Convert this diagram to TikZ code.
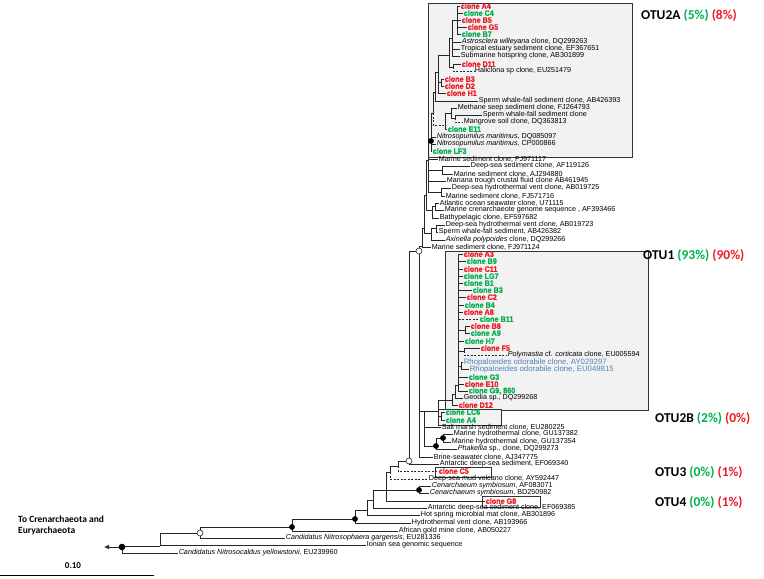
\documentclass[tikz,border=0pt]{standalone}
\usepackage{fontspec}
\setmainfont{Liberation Sans}
\newfontfamily\clonefont[FakeStretch=0.9,FakeBold=1]{Liberation Sans Bold}
\newfontfamily\otufont{Carlito}
\usetikzlibrary{arrows.meta}

\definecolor{cred}{RGB}{237,28,36}
\definecolor{cgreen}{RGB}{0,176,80}
\definecolor{cblue}{RGB}{79,129,189}
\definecolor{boxfill}{RGB}{242,242,242}

\tikzset{
  br/.style={line width=0.6pt, draw=black!85},
  brd/.style={br, dash pattern=on 2pt off 1.5pt},
  leaf/.style={anchor=west, inner sep=0.6pt, font=\fontsize{7.2}{7.2}\selectfont},
  cr/.style={leaf, text=cred, font=\clonefont\fontsize{8}{8}\selectfont},
  cg/.style={cr, text=cgreen},
  cb/.style={leaf, text=cblue, font=\fontsize{7.8}{7.8}\selectfont},
  otu/.style={anchor=west, inner sep=0pt, font=\otufont\bfseries\fontsize{13.5}{13.5}\selectfont},
  otubox/.style={fill=boxfill, draw=black!80, line width=0.6pt}
}

\begin{document}
\begin{tikzpicture}[x=1pt,y=-1pt]
  \useasboundingbox (0,0) rectangle (764,579);
  % OTU boxes
  \draw[otubox] (428,3) rectangle (632,157);
  \draw[otubox] (445,251) rectangle (648,410);
  \draw[otubox] (438,409) rectangle (501,425);
  \draw[draw=black!80, line width=0.6pt, fill=white] (435,467) rectangle (491,477);
  \draw[draw=black!80, line width=0.6pt, fill=white] (482,496) rectangle (540,507);

  % Internal nodes
  \coordinate (outg) at (104,547);
  \coordinate (R) at (122,547);
  \coordinate (N160) at (160,546);
  \coordinate (W0) at (200,533);
  \coordinate (B292) at (292,527);
  \coordinate (B355) at (355,519);
  \coordinate (N367) at (367,510);
  \coordinate (N373) at (373,500);
  \coordinate (N386) at (386,490);
  \coordinate (C419) at (419,490);
  \coordinate (N390) at (390,472);
  \coordinate (N398) at (398,466);
  \coordinate (W2) at (409,461);
  \coordinate (W1) at (419,251);
  \coordinate (N424) at (424,411);
  \coordinate (N438) at (438,411);
  \coordinate (B2n) at (441,416);
  \coordinate (DotA) at (436,446);
  \coordinate (DotB) at (443,438);
  \coordinate (O1) at (452,400);
  \coordinate (O2) at (455,394);
  \coordinate (O3) at (458,385);
  \coordinate (BA) at (465,330);
  \coordinate (FP) at (464,351);
  \coordinate (Rh) at (461,366);
  \coordinate (UC) at (422,246);
  \coordinate (UA) at (424,228);
  \coordinate (UB) at (426,195);
  \coordinate (UCc) at (428,160);
  \coordinate (G1) at (442,170);
  \coordinate (G2) at (441,192);
  \coordinate (G3) at (432,210);
  \coordinate (N435) at (435,206);
  \coordinate (G4) at (431,233);
  \coordinate (N437) at (436,228);
  \coordinate (Dot430) at (431,141);
  \coordinate (T0) at (433,113);
  \coordinate (T1) at (435,92);
  \coordinate (T2) at (438,72);
  \coordinate (BD) at (441,82);
  \coordinate (T3) at (449,55);
  \coordinate (T4) at (452,38);
  \coordinate (A4grp) at (457,20);
  \coordinate (D11n) at (453,67);
  \coordinate (ME) at (445,125);
  \coordinate (MG) at (451,113);
  \coordinate (MS) at (455,118);

  % OTU2A leaves
  \node[cr] (a4) at (460,6) {clone A4};
  \node[cg] (c4) at (463,13) {clone C4};
  \node[cr] (b5) at (461,20) {clone B5};
  \node[cr] (g5) at (467,27) {clone G5};
  \node[cg] (b7) at (461,34) {clone B7};
  \node[leaf] (astro) at (461,42) {\textit{Astrosclera willeyana} clone, DQ299263};
  \node[leaf] (trop) at (460,49) {Tropical estuary sediment clone, EF367651};
  \node[leaf] (subm) at (460,56) {Submarine hotspring clone, AB301899};
  \node[cr] (d11) at (461,64) {clone D11};
  \node[leaf] (hali) at (474,71) {Haliclona sp clone, EU251479};
  \node[cr] (b3) at (444,79) {clone B3};
  \node[cr] (d2) at (444,86) {clone D2};
  \node[cr] (h1) at (446,93) {clone H1};
  \node[leaf] (swA) at (478,101) {Sperm whale-fall sediment clone, AB426393};
  \node[leaf] (meth) at (457,108) {Methane seep sediment clone, FJ264793};
  \node[leaf] (swB) at (482,115) {Sperm whale-fall sediment clone};
  \node[leaf] (mang) at (463,122) {Mangrove soil clone, DQ363813};
  \node[cg] (e11) at (447,129) {clone E11};
  \node[leaf] (nmA) at (436,137) {\textit{Nitrosopumilus maritimus}, DQ085097};
  \node[leaf] (nmB) at (436,144) {\textit{Nitrosopumilus maritimus}, CP000866};
  \node[cg] (lf3) at (432,151) {clone LF3};

  % Marine clones
  \node[leaf] (ms1) at (438,159) {Marine sediment clone, FJ971117};
  \node[leaf] (dss) at (470,166) {Deep-sea sediment clone, AF119126};
  \node[leaf] (ms2) at (453,174) {Marine sediment clone, AJ294880};
  \node[leaf] (mari) at (446,181) {Mariana trough crustal fluid clone AB461945};
  \node[leaf] (dsv1) at (451,188) {Deep-sea hydrothermal vent clone, AB019725};
  \node[leaf] (ms3) at (445,196) {Marine sediment clone, FJ571716};
  \node[leaf] (atl) at (439,203) {Atlantic ocean seawater clone, U71115};
  \node[leaf] (mcg) at (444,210) {Marine crenarchaeote genome sequence , AF393466};
  \node[leaf] (bathy) at (439,218) {Bathypelagic clone, EF597682};
  \node[leaf] (dsv2) at (445,225) {Deep-sea hydrothermal vent clone, AB019723};
  \node[leaf] (swC) at (438,232) {Sperm whale-fall sediment, AB426382};
  \node[leaf] (axin) at (445,240) {\textit{Axinella polypoides} clone, DQ299266};
  \node[leaf] (ms4) at (431,247) {Marine sediment clone, FJ971124};

  % OTU1 leaves
  \node[cr] (a3) at (463,254) {clone A3};
  \node[cg] (b9) at (466,261) {clone B9};
  \node[cr] (c11) at (463,269) {clone C11};
  \node[cg] (lg7) at (463,276) {clone LG7};
  \node[cg] (b1) at (463,283) {clone B1};
  \node[cg] (b3o) at (472,290) {clone B3};
  \node[cr] (c2) at (466,297) {clone C2};
  \node[cg] (b4) at (464,305) {clone B4};
  \node[cr] (a8) at (463,312) {clone A8};
  \node[cg] (b11) at (479,319) {clone B11};
  \node[cr] (b8) at (470,326) {clone B8};
  \node[cg] (a9) at (470,333) {clone A9};
  \node[cg] (h7) at (464,341) {clone H7};
  \node[cr] (f5) at (480,348) {clone F5};
  \node[leaf] (poly) at (507,355) {\textit{Polymastia} cf. \textit{corticata} clone, EU005594};
  \node[cb] (rhA) at (463,362) {Rhopaloeides odorabile clone, AY029297};
  \node[cb] (rhB) at (469,369) {Rhopaloeides odorabile clone, EU049815};
  \node[cg] (g3) at (468,377) {clone G3};
  \node[cr] (e10) at (464,384) {clone E10};
  \node[cg] (g9) at (468,391) {clone G9, 860};
  \node[leaf] (geo) at (463,398) {Geodia sp., DQ299268};
  \node[cr] (d12) at (458,405) {clone D12};

  % OTU2B and below
  \node[cg] (lc6) at (445,412) {clone LC6};
  \node[cg] (a4b) at (445,420) {clone A4};
  \node[leaf] (salt) at (441,427) {Salt marsh sediment clone, EU280225};
  \node[leaf] (guA) at (453,434) {Marine hydrothermal clone, GU137382};
  \node[leaf] (guB) at (451,442) {Marine hydrothermal clone, GU137354};
  \node[leaf] (phak) at (457,449) {\textit{Phakellia} sp., clone, DQ299273};
  \node[leaf] (brine) at (433,457) {Brine-seawater clone, AJ347775};
  \node[leaf] (antA) at (439,464) {Antarctic deep-sea sediment, EF069340};
  \node[cr] (c5) at (438,471) {clone C5};
  \node[leaf] (mud) at (428,479) {Deep-sea mud volcano clone, AY592447};
  \node[leaf] (cenA) at (431,486) {\textit{Cenarchaeum symbiosum}, AF083071};
  \node[leaf] (cenB) at (429,493) {\textit{Cenarchaeum symbiosum}, BD250982};
  \node[cr] (g8) at (485,501) {clone G8};
  \node[leaf] (antB) at (427,508) {Antarctic deep-sea sediment clone, EF069385};
  \node[leaf] (hot) at (420,515) {Hot spring microbial mat clone, AB301896};
  \node[leaf] (hyd) at (411,523) {Hydrothermal vent clone, AB193966};
  \node[leaf] (afr) at (398,531) {African gold mine clone, AB050227};
  \node[leaf] (garg) at (285,538) {\textit{Candidatus Nitrosophaera gargensis}, EU281336};
  \node[leaf] (ion) at (366,545) {Ionian sea genomic sequence};
  \node[leaf] (cald) at (178,553) {\textit{Candidatus Nitrosocaldus yellowstonii}, EU239960};

  % Branches
  \foreach \p/\c in {R/N160, R/cald, N160/W0, N160/ion, W0/B292, W0/garg,
      B292/B355, B292/afr, B355/N367, B355/hyd, N367/N373, N367/hot,
      N373/N386, N373/antB, N386/N390, N386/C419, N386/g8, C419/cenA, C419/cenB,
      N390/N398, N398/W2, W2/W1, W2/antA,
      W1/UC, W1/N424, W1/brine, N424/N438, N424/salt, N424/DotA,
      DotA/DotB, DotA/phak, DotB/guA, DotB/guB, N438/O1, N438/B2n, B2n/lc6, B2n/a4b,
      O1/O2, O1/d12, O2/O3, O2/geo}
    \draw[br] (\p) |- (\c);
  \foreach \c in {a3,b9,c11,lg7,b1,b3o,c2,b4,a8,BA,h7,FP,Rh,g3,e10,g9}
    \draw[br] (O3) |- (\c);
  \foreach \p/\c in {BA/b8, BA/a9, FP/f5, Rh/rhA, Rh/rhB,
      UC/UA, UC/ms4, UA/UB, UA/G4, G4/N437, G4/axin, N437/dsv2, N437/swC,
      UB/UCc, UB/G3, G3/N435, G3/bathy, N435/atl, N435/mcg,
      UCc/Dot430, UCc/ms1, UCc/G1, UCc/mari, UCc/G2, G1/dss, G1/ms2, G2/dsv1, G2/ms3,
      Dot430/T0, Dot430/nmA, Dot430/nmB, Dot430/lf3,
      T0/T1, T1/T2, T1/swA, T2/T3, T2/BD, T2/h1, BD/b3, BD/d2,
      T3/T4, T3/D11n, D11n/d11, T4/A4grp, T4/astro, T4/trop, T4/subm,
      ME/MG, ME/e11, MG/meth, MG/MS, MS/swB}
    \draw[br] (\p) |- (\c);
  \foreach \c in {a4,c4,b5,g5,b7}
    \draw[br] (A4grp) |- (\c);
  % Dashed branches
  \foreach \p/\c in {T0/ME, MS/mang, D11n/hali, O3/b11, FP/poly, N398/c5, N390/mud}
    \draw[brd] (\p) |- (\c);
  \draw[br, -{Latex[length=5pt,width=4.5pt]}] (R) -- (outg);

  % Bootstrap markers
  \foreach \n in {B292,B355,C419,DotA,DotB,Dot430}
    \fill (\n) circle (2.9);
  \fill (R) circle (3.3);
  \foreach \n in {W0,W1,W2}
    \filldraw[br, fill=white] (\n) circle (3);

  % OTU labels
  \node[otu] (otu2a) at (641,16) {OTU2A \textcolor{cgreen}{(5\%)} \textcolor{cred}{(8\%)}};
  \node[otu] (otu1) at (643,256) {OTU1 \textcolor{cgreen}{(93\%)} \textcolor{cred}{(90\%)}};
  \node[otu] (otu2b) at (655,419) {OTU2B \textcolor{cgreen}{(2\%)} \textcolor{cred}{(0\%)}};
  \node[otu] (otu3) at (655,473) {OTU3 \textcolor{cgreen}{(0\%)} \textcolor{cred}{(1\%)}};
  \node[otu] (otu4) at (655,503) {OTU4 \textcolor{cgreen}{(0\%)} \textcolor{cred}{(1\%)}};

  % Outgroup note and scale bar
  \node[anchor=west, align=left, inner sep=0pt, font=\otufont\bfseries\fontsize{9.5}{11}\selectfont] (outtxt) at (18,525) {To Crenarchaeota and\\Euryarchaeota};
  \coordinate (sbA) at (0,575);
  \coordinate (sbB) at (154,575);
  \draw[line width=0.8pt] (sbA) -- (sbB);
  \node[font=\otufont\bfseries\fontsize{9}{9}\selectfont, inner sep=0pt] (sbl) at (73,566) {0.10};
\end{tikzpicture}
\end{document}
